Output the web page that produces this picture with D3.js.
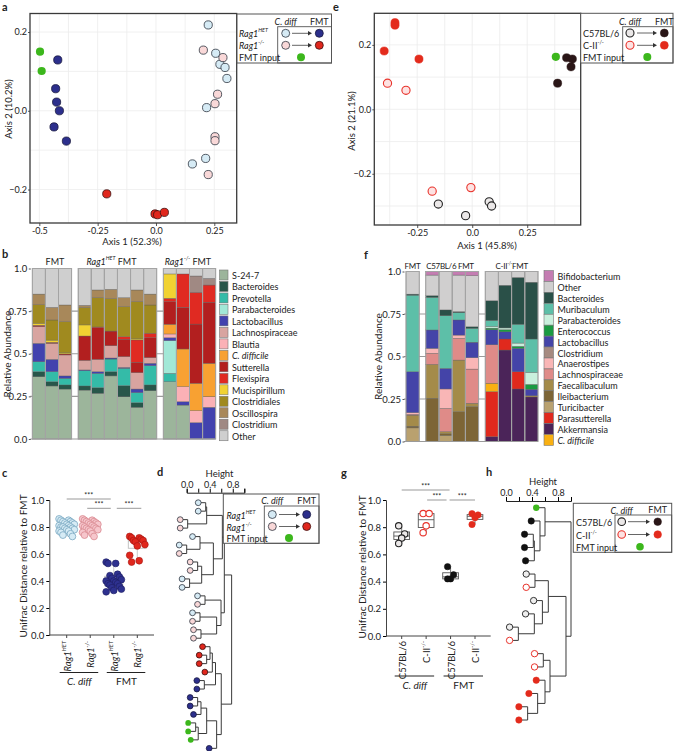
<!DOCTYPE html>
<html>
<head>
<meta charset="utf-8">
<script src="https://cdn.jsdelivr.net/npm/d3@7/dist/d3.min.js"></script>
<style>
body { margin: 0; background: #fff; }
svg text { font-family: Lato, "Open Sans", sans-serif; fill: #222; }
</style>
</head>
<body>
<svg id="fig" width="679" height="751"></svg>
<script>
// ---------- data ----------
// a : PCoA Rag1 (x = Axis 1, y = Axis 2)
const aHetCdiff = [[0.224,0.218],[0.256,0.146],[0.274,0.118],[0.296,0.110],[0.304,0.082],[0.217,0.008],[0.213,-0.121],[0.156,-0.135]];
const aKoCdiff  = [[0.203,0.154],[0.287,0.135],[0.264,0.042],[0.253,0.018],[0.253,-0.066],[0.253,-0.076],[0.224,-0.162]];
const aHetFmt   = [[-0.421,0.129],[-0.430,0.056],[-0.426,0.022],[-0.414,0.0],[-0.437,-0.041],[-0.384,-0.077]];
const aKoFmt    = [[-0.211,-0.211],[-0.004,-0.262],[0.007,-0.264],[0.036,-0.258]];
const aInput    = [[-0.497,0.150],[-0.490,0.101]];

// e : PCoA C-II
const eC57Cdiff = [[-0.154,-0.294],[0.077,-0.287],[0.088,-0.300],[-0.030,-0.330]];
const eCiiCdiff = [[-0.385,0.081],[-0.301,0.059],[-0.182,-0.254],[-0.006,-0.243]];
const eC57Fmt   = [[0.429,0.160],[0.455,0.156],[0.449,0.132],[0.388,0.081]];
const eCiiFmt   = [[-0.351,0.269],[-0.351,0.261],[-0.400,0.181],[-0.242,0.156]];
const eInput    = [[0.380,0.163]];

// b : relative abundance, taxa from bottom of stack to top
const taxaB = ["S-24-7","Bacteroides","Prevotella","Parabacteroides","Lactobacillus","Lachnospiraceae","Blautia","C. difficile","Sutterella","Flexispira","Mucispirillum","Clostridiales","Oscillospira","Clostridium","Other"];
const colorsB = ["#9cb59b","#28564a","#34bba8","#a2e8d7","#4242ae","#d8a4a0","#fbb1b6","#f8a132","#b21f1f","#e02a22","#f1d232","#a08a1f","#a8885a","#a08983","#cfcfcf"];
const sampleGroupB = [0,0,0,1,1,1,1,1,1,2,2,2,2];
const abundB = [
  [.365,.030,.058,0,.108,.098,0,0,.008,0,.012,.108,.063,0,.150],
  [.311,.025,.059,0,.072,.094,0,0,.006,0,.013,.118,.074,0,.228],
  [.293,.024,.039,0,.014,.123,0,0,.006,0,.006,.183,.098,0,.214],
  [.287,.024,.090,0,.004,.056,0,0,.143,0,.065,.102,.013,0,.216],
  [.268,.033,.084,0,.010,.072,0,0,.186,.004,0,.172,.045,0,.126],
  [.370,.025,.074,0,.006,.072,0,0,.086,0,0,.190,.055,0,.122],
  [.248,.065,.102,0,.005,.063,0,0,.102,.015,0,.176,.053,0,.171],
  [.186,.027,.059,0,.021,.096,0,0,.061,.131,.006,.218,.069,0,.126],
  [.283,.034,.113,0,.014,.033,0,0,.117,.026,0,.166,.064,0,.150],
  [.336,0,.049,.192,.017,0,.022,.057,.132,.020,.143,0,0,0,.032],
  [.199,0,0,0,.020,0,.088,.221,.244,.196,0,0,0,0,.032],
  [0,0,0,0,.096,0,.070,.161,.347,.186,0,0,0,.096,.044],
  [0,0,0,0,.186,0,.062,.196,.358,.101,0,0,0,.039,.058]
];

// f : relative abundance, taxa from bottom of stack to top
const taxaF = ["Akkermansia","Parasutterella","C. difficile","Turicibacter","Ileibacterium","Faecalibaculum","Lachnospiraceae","Anaerostipes","Clostridium","Lactobacillus","Enterococcus","Parabacteroides","Muribaculum","Bacteroides","Other","Bifidobacterium"];
const colorsF = ["#4b2459","#e0291d","#f9b012","#b9a16f","#7d6536","#a48b49","#df8b88","#f9b6b6","#a68a80","#4444a8","#1a9a42","#c9f0dd","#5dbfa8","#2a5048","#d0cfcf","#c47db2"];
const legendOrderF = ["Bifidobacterium","Other","Bacteroides","Muribaculum","Parabacteroides","Enterococcus","Lactobacillus","Clostridium","Anaerostipes","Lachnospiraceae","Faecalibaculum","Ileibacterium","Turicibacter","Parasutterella","Akkermansia","C. difficile"];
const sampleGroupF = [0,1,1,1,1,2,2,2,2];
const abundF = [
  [0,0,0,.080,.010,.065,.005,.010,0,.240,0,0,.451,.006,.133,0],
  [0,0,0,0,.254,.200,.065,.029,0,.108,0,0,.192,.010,.121,.021],
  [0,0,0,.035,.010,.013,.137,.114,0,.121,0,0,.310,.034,.226,0],
  [0,0,0,0,.175,.304,.128,.019,0,.089,0,0,.043,.006,.215,.021],
  [0,0,0,0,.205,.020,.201,.067,0,.091,0,0,.082,.009,.301,.024],
  [.028,.265,.050,0,0,0,.226,0,0,.088,.010,.010,.035,.116,.172,0],
  [.538,.065,0,0,0,0,0,0,0,.042,.013,.010,0,.251,.081,0],
  [.309,.101,0,0,0,0,0,0,0,.138,.012,.019,.111,.275,.035,0],
  [.262,0,0,0,0,.007,0,0,0,.038,.029,.071,.196,.334,.063,0]
];

// c : Unifrac distance to FMT
const cHetCdiff = [0.86,0.85,0.85,0.84,0.84,0.83,0.83,0.82,0.82,0.81,0.81,0.80,0.80,0.80,0.79,0.79,0.78,0.78,0.77,0.77,0.76,0.75,0.74,0.73];
const cKoCdiff  = [0.86,0.85,0.85,0.84,0.84,0.83,0.83,0.82,0.82,0.81,0.81,0.80,0.80,0.79,0.79,0.78,0.78,0.77,0.76,0.75,0.74,0.73];
const cHetFmt   = [0.54,0.53,0.53,0.45,0.44,0.43,0.42,0.41,0.40,0.40,0.39,0.38,0.38,0.37,0.36,0.35,0.34,0.33,0.32];
const cKoFmt    = [0.73,0.72,0.72,0.71,0.70,0.70,0.69,0.67,0.66,0.59,0.55,0.54];

// g : Unifrac distance to FMT
const gC57Cdiff = [0.81,0.75,0.72,0.68];
const gCiiCdiff = [0.90,0.90,0.81,0.76];
const gC57Fmt   = [0.51,0.45,0.42,0.42];
const gCiiFmt   = [0.90,0.89,0.87,0.82];

// d, h : hierarchical clustering  [height, left, right], leaves = group code
const treeD = [0.78,
  [0.653,
    [0.619,
      [0.347, [0.33,"hb","hb"], [0.017,"kb","kb"]],
      [0.463, [0.231,"hb",[0.0,"hb","kb"]], [0.26,[0.19,"kb","kb"],[0.05,"hb","hb"]]]],
    [0.596, [0.318,"hb","kb"], [0.52,[0.231,"hb","kb"],[0.248,"kb","kb"]]]],
  [0.6,
    [0.5, [0.445,[0.405,"kf",[0.347,"kf","kf"]],"kf"], [0.306,"hf","hf"]],
    [0.52, [0.347,[0.248,[0.19,"hf","hf"],"hf"],[0.2,[0.156,"in","in"],"in"]], "hf"]]
];
const treeH = [1.0,
  [0.6, "in", [0.523, "f57", [0.436, [0.42,"f57","f57"], "f57"]]],
  [0.923,
    [0.651, [0.446,"c57","cii"], [0.56, "c57", [0.436, "c57", [0.19,"c57","cii"]]]],
    [0.677, [0.574,"cii","cii"], [0.6, "fii", [0.487, "fii", [0.333,"fii","fii"]]]]]
];

// ---------- styles ----------
const sty = {
  hb:  {fill:"#d6ebf5", stroke:"#2d3540", sw:0.8},
  kb:  {fill:"#f9d8d8", stroke:"#2d3540", sw:0.8},
  hf:  {fill:"#2c2f8c", stroke:"#1a1a40", sw:0.8},
  kf:  {fill:"#e0271d", stroke:"#3a1010", sw:0.8},
  in:  {fill:"#3cb71c", stroke:"none", sw:0},
  c57: {fill:"#ebe8e8", stroke:"#222", sw:1.1},
  cii: {fill:"#fde2e2", stroke:"#e8322a", sw:1.1},
  f57: {fill:"#2a1617", stroke:"#2a1617", sw:0.5},
  fii: {fill:"#e32b1c", stroke:"#e32b1c", sw:0.5}
};
const labHet = [{t:"Rag1",i:1},{t:"HET",i:1,sup:1}];
const labKo  = [{t:"Rag1",i:1},{t:"-/-",i:1,sup:1}];
const labC57 = [{t:"C57BL/6"}];
const labCii = [{t:"C-II"},{t:"-/-",sup:1}];

const svg = d3.select("#fig");
svg.append("rect").attr("width",679).attr("height",751).attr("fill","#fff");

function rich(sel, parts) {
  parts.forEach(p => {
    const ts = sel.append("tspan").text(p.t);
    if (p.i) ts.attr("font-style","italic");
    if (p.sup) ts.attr("baseline-shift","super").attr("font-size","0.6em");
  });
  return sel;
}
function txt(x, y, s, size, anchor) {
  return svg.append("text").attr("x",x).attr("y",y).attr("font-size",size)
    .attr("text-anchor",anchor || "middle").attr("dominant-baseline","central").text(s);
}
function vtxt(x, y, s, size) {
  return svg.append("text").attr("transform",`translate(${x},${y}) rotate(-90)`)
    .attr("font-size",size).attr("text-anchor","middle").attr("dominant-baseline","central").text(s);
}
function dot(g, x, y, r, s) {
  g.append("circle").attr("cx",x).attr("cy",y).attr("r",r)
    .attr("fill",s.fill).attr("stroke",s.stroke).attr("stroke-width",s.sw);
}
function styleAxis(g, size) {
  g.attr("font-size",size);
  g.select(".domain").remove();
  g.selectAll("line").attr("stroke","#555");
}

// panel letters
[["a",2,6],["e",333,6],["b",2,253],["f",364,254],["c",2,472],["d",157,471],["g",341,472],["h",486,471]]
  .forEach(([t,x,y]) => txt(x,y,t,11,"start").attr("font-weight","bold"));

// ---------- scatter (a, e) ----------
function scatterPanel(p) {
  const x = d3.scaleLinear().domain(p.xd).range([p.x0, p.x1]);
  const y = d3.scaleLinear().domain(p.yd).range([p.y1, p.y0]);
  const g = svg.append("g");
  g.selectAll("line.gx").data(p.gridX).enter().append("line")
    .attr("x1",d=>x(d)).attr("x2",d=>x(d)).attr("y1",p.y0).attr("y2",p.y1)
    .attr("stroke","#ececec").attr("stroke-width",0.8);
  g.selectAll("line.gy").data(p.gridY).enter().append("line")
    .attr("y1",d=>y(d)).attr("y2",d=>y(d)).attr("x1",p.x0).attr("x2",p.x1)
    .attr("stroke","#ececec").attr("stroke-width",0.8);
  const ax = g.append("g").attr("transform",`translate(0,${p.y1})`)
    .call(d3.axisBottom(x).tickValues(p.xt).tickSize(3).tickPadding(1.5).tickFormat(d => d === 0 ? "0.0" : String(d)));
  styleAxis(ax, 9);
  const ay = g.append("g").attr("transform",`translate(${p.x0},0)`)
    .call(d3.axisLeft(y).tickValues(p.yt).tickSize(2).tickPadding(1).tickFormat(d3.format(".1f")));
  styleAxis(ay, 9);
  p.series.forEach(s => s.data.forEach(d => dot(g, x(d[0]), y(d[1]), 4.1, s.st)));
  g.append("rect").attr("x",p.x0).attr("y",p.y0).attr("width",p.x1-p.x0).attr("height",p.y1-p.y0)
    .attr("fill","none").attr("stroke","#3a3a3a").attr("stroke-width",1.3);
  txt(p.xlab[0], p.xlab[1], p.xlab[2], 9.5);
  vtxt(p.ylab[0], p.ylab[1], p.ylab[2], 9.5);
}

scatterPanel({
  x0:30, x1:236.7, y0:13.5, y1:223, xd:[-0.54,0.346], yd:[-0.285,0.247],
  gridX:[-0.5,-0.375,-0.25,-0.125,0,0.125,0.25], gridY:[-0.2,-0.1,0,0.1,0.2],
  xt:[-0.5,-0.25,0,0.25], yt:[-0.2,0,0.2],
  series:[{data:aHetCdiff,st:sty.hb},{data:aKoCdiff,st:sty.kb},{data:aHetFmt,st:sty.hf},{data:aKoFmt,st:sty.kf},{data:aInput,st:sty.in}],
  xlab:[132,241,"Axis 1 (52.3%)"], ylab:[8.5,109,"Axis 2 (10.2%)"]
});
scatterPanel({
  x0:374.3, x1:580.7, y0:13.3, y1:225, xd:[-0.445,0.493], yd:[-0.359,0.298],
  gridX:[-0.375,-0.25,-0.125,0,0.125,0.25,0.375], gridY:[-0.3,-0.2,-0.1,0,0.1,0.2],
  xt:[-0.25,0,0.25], yt:[-0.2,0,0.2],
  series:[{data:eC57Cdiff,st:sty.c57},{data:eCiiCdiff,st:sty.cii},{data:eC57Fmt,st:sty.f57},{data:eCiiFmt,st:sty.fii},{data:eInput,st:sty.in}],
  xlab:[487,245,"Axis 1 (45.8%)"], ylab:[351.5,121,"Axis 2 (21.1%)"]
});

// ---------- legends with arrows ----------
function arrowLegend(L) {
  const g = svg.append("g");
  g.append("rect").attr("x",L.x0).attr("y",L.y0).attr("width",L.x1-L.x0).attr("height",L.y1-L.y0)
    .attr("fill","#fff").attr("stroke","#555").attr("stroke-width",1);
  g.append("rect").attr("x",L.ix).attr("y",L.iy).attr("width",L.x1-L.ix).attr("height",L.y1-L.iy)
    .attr("fill","none").attr("stroke","#555").attr("stroke-width",0.9);
  rich(txt(L.cx1, L.hy, "", 9), [{t:"C. diff",i:1}]);
  txt(L.cx2, L.hy, "FMT", 9);
  L.labels.forEach((lab, i) => rich(txt(L.lx, L.rows[i], "", 9, "start"), lab));
  [0,1].forEach(i => {
    dot(g, L.cx1, L.rows[i], L.r, L.open[i]);
    dot(g, L.cx2, L.rows[i], L.r, L.full[i]);
    g.append("line").attr("x1",L.a0).attr("x2",L.a1-3).attr("y1",L.rows[i]).attr("y2",L.rows[i])
      .attr("stroke","#555").attr("stroke-width",0.9);
    g.append("path").attr("d",`M${L.a1},${L.rows[i]}l-4,-2.2v4.4z`).attr("fill","#333");
  });
  dot(g, L.gx, L.rows[2], L.r, sty.in);
}
arrowLegend({x0:237,y0:14,x1:331.5,y1:63,ix:277.7,iy:26.7,hy:21,cx1:285.7,cx2:319.3,a0:292,a1:312,gx:301,
  lx:239,rows:[33.3,45.3,57.3],r:4,labels:[labHet,labKo,[{t:"FMT input"}]],open:[sty.hb,sty.kb],full:[sty.hf,sty.kf]});
arrowLegend({x0:580.7,y0:13.3,x1:673,y1:63,ix:622.7,iy:26.7,hy:21,cx1:630,cx2:664.3,a0:637,a1:657,gx:647.3,
  lx:583,rows:[33,45.3,57],r:4,labels:[labC57,labCii,[{t:"FMT input"}]],open:[sty.c57,sty.cii],full:[sty.f57,sty.fii]});

// ---------- stacked bars (b, f) ----------
function stackPanel(p) {
  const x = d3.scaleLinear().domain([0, p.units]).range(p.xr);
  const y = d3.scaleLinear().domain([0,1]).range(p.yr);
  const bw = x(1) - x(0);
  const rows = p.matrix.map((v,i) => {
    const o = {pos: i + p.groups[i] * 0.5};
    p.taxa.forEach((t,j) => o[t] = v[j]);
    return o;
  });
  const series = d3.stack().keys(p.taxa)(rows);
  const g = svg.append("g");
  g.selectAll("line.grid").data([0.25,0.5,0.75]).enter().append("line")
    .attr("x1",p.xr[0]-2).attr("x2",p.xr[1]).attr("y1",d=>y(d)).attr("y2",d=>y(d))
    .attr("stroke","#9a9a9a").attr("stroke-width",1.1);
  g.selectAll("g.layer").data(series).enter().append("g").attr("fill",(d,i)=>p.colors[i])
    .selectAll("rect").data(d => d.filter(s => s[1]-s[0] > 0)).enter().append("rect")
    .attr("x",d=>x(d.data.pos)).attr("width",bw).attr("y",d=>y(d[1])).attr("height",d=>y(d[0])-y(d[1]))
    .attr("stroke","#5a5a5a").attr("stroke-width",0.35);
  g.selectAll("rect.frame").data(rows).enter().append("rect")
    .attr("x",d=>x(d.pos)).attr("width",bw).attr("y",y(1)).attr("height",y(0)-y(1))
    .attr("fill","none").attr("stroke","#a4a4a4").attr("stroke-width",1);
  g.append("line").attr("x1",p.xr[0]-2).attr("x2",p.xr[1]).attr("y1",y(0)).attr("y2",y(0))
    .attr("stroke","#9a9a9a").attr("stroke-width",1.1);
  const ay = g.append("g").attr("transform",`translate(${p.xr[0]-1.5},0)`)
    .call(d3.axisLeft(y).tickValues([0,0.25,0.5,0.75,1]).tickSize(2).tickPadding(1.5)
      .tickFormat(d => d === 0 ? "0.0" : d === 1 ? "1.0" : String(d)));
  styleAxis(ay, 9.5);
  p.heads.forEach(h => {
    const t = rich(txt(h.x, h.y, "", p.headSize), h.parts);
    if (p.headSpacing) t.attr("letter-spacing", p.headSpacing);
  });
  vtxt(p.ylab[0], p.ylab[1], "Relative Abundance", 10);
  // legend
  p.legend.forEach((name, i) => {
    const c = p.colors[p.taxa.indexOf(name)];
    const cy = p.ly0 + i * p.ldy;
    g.append("rect").attr("x",p.lx).attr("y",cy - p.lh/2).attr("width",p.lw).attr("height",p.lh)
      .attr("fill",c).attr("stroke","#777").attr("stroke-width",0.6);
    const t = txt(p.lx + p.lw + 4, cy, "", 9, "start");
    rich(t, [{t:name, i: name === "C. difficile" ? 1 : 0}]);
  });
}
stackPanel({
  taxa:taxaB, colors:colorsB, matrix:abundB, groups:sampleGroupB, units:14,
  xr:[32.3,215.7], yr:[439,268.5], headSize:9,
  heads:[{x:55,y:261,parts:[{t:"FMT"}]},{x:111.5,y:261,parts:labHet.concat([{t:" FMT"}])},{x:188,y:261,parts:labKo.concat([{t:" FMT"}])}],
  ylab:[7,354],
  legend:taxaB, lx:219.5, lw:8.5, lh:10, ly0:275, ldy:11.48
});
stackPanel({
  taxa:taxaF, colors:colorsF, matrix:abundF, groups:sampleGroupF, units:10,
  xr:[406,538], yr:[441.5,271.5], headSize:8, headSpacing:-0.3,
  heads:[{x:412.5,y:265.5,parts:[{t:"FMT"}]},{x:450,y:265.5,parts:[{t:"C57BL/6 FMT"}]},{x:511.7,y:265.5,parts:[{t:"C-II"},{t:"-/-",sup:1},{t:"FMT"}]}],
  ylab:[377.5,356.5],
  legend:legendOrderF, lx:544, lw:9.5, lh:10.9, ly0:276, ldy:10.93
});

// ---------- distance plots (c, g) ----------
function distPanel(p) {
  const y = d3.scaleLinear().domain([0,1]).range(p.yr);
  const x = d3.scalePoint().domain(d3.range(p.sets.length)).range(p.xr);
  const g = svg.append("g");
  const ay = g.append("g").attr("transform",`translate(${p.ax},0)`)
    .call(d3.axisLeft(y).tickValues([0,0.2,0.4,0.6,0.8,1]).tickSize(3).tickPadding(2).tickFormat(d3.format(".1f")));
  ay.attr("font-size",9.5);
  ay.select(".domain").attr("stroke","#444");
  g.append("line").attr("x1",p.ax).attr("x2",p.xEnd).attr("y1",y(0)).attr("y2",y(0)).attr("stroke","#444");
  p.sets.forEach((s, k) => {
    const cx = x(k);
    const v = s.vals.slice().sort(d3.ascending);
    const q1 = d3.quantile(v,0.25), md = d3.quantile(v,0.5), q3 = d3.quantile(v,0.75);
    g.append("line").attr("x1",cx).attr("x2",cx).attr("y1",y(v[0])).attr("y2",y(v[v.length-1]))
      .attr("stroke",p.boxStroke).attr("stroke-width",0.8);
    g.append("rect").attr("x",cx-p.bw/2).attr("width",p.bw).attr("y",y(q3)).attr("height",y(q1)-y(q3))
      .attr("fill","#fff").attr("stroke",p.boxStroke).attr("stroke-width",0.9);
    g.append("line").attr("x1",cx-p.bw/2).attr("x2",cx+p.bw/2).attr("y1",y(md)).attr("y2",y(md))
      .attr("stroke",p.boxStroke).attr("stroke-width",0.9);
    s.vals.forEach((d,i) => dot(g, cx + p.jit(i), y(d), p.r, s.st));
    g.append("line").attr("x1",cx).attr("x2",cx).attr("y1",y(0)).attr("y2",y(0)+3).attr("stroke","#444");
    const t = svg.append("text").attr("transform",`translate(${cx},${p.labY}) rotate(-90)`)
      .attr("font-size",9.5).attr("text-anchor","end").attr("dominant-baseline","central");
    rich(t, s.lab);
  });
  p.brackets.forEach(b => {
    g.append("line").attr("x1",x(b[0])+b[2]).attr("x2",x(b[1])+b[3]).attr("y1",b[4]).attr("y2",b[4])
      .attr("stroke","#999").attr("stroke-width",1);
    svg.append("text").attr("x",(x(b[0])+b[2]+x(b[1])+b[3])/2).attr("y",b[4]-1.2)
      .attr("font-size",7).attr("text-anchor","middle").text("***");
  });
  [[0,1,[{t:"C. diff",i:1}]],[2,3,[{t:"FMT"}]]].forEach(([a,b,lab]) => {
    g.append("line").attr("x1",x(a)-7).attr("x2",x(b)+8).attr("y1",p.ulY).attr("y2",p.ulY).attr("stroke","#222").attr("stroke-width",1);
    rich(txt((x(a)+x(b))/2 + 1, p.ulY + 8.5, "", 10), lab);
  });
  vtxt(p.ylab[0], p.ylab[1], "Unifrac Distance relative to FMT", 10);
}
distPanel({
  yr:[635,500], xr:[66.7,137.3], ax:49.3, xEnd:154, bw:18, r:3.4, boxStroke:"#bdbdbd",
  jit: i => ((i * 5) % 9 - 4) * 1.9,
  sets:[{vals:cHetCdiff,st:{fill:"#d6ebf5",stroke:"#7aa8c2",sw:0.8},lab:labHet},
        {vals:cKoCdiff,st:{fill:"#f6c6cc",stroke:"#d98a92",sw:0.8},lab:labKo},
        {vals:cHetFmt,st:{fill:"#2e318f",stroke:"#1c1d60",sw:0.6},lab:labHet},
        {vals:cKoFmt,st:{fill:"#e0271d",stroke:"#a51510",sw:0.6},lab:labKo}],
  labY:641, ulY:672.5,
  brackets:[[0,2,0,-3,499],[1,2,-3,-3,508.3],[2,3,3,4,508.3]],
  ylab:[22.5,566]
});
distPanel({
  yr:[636,500], xr:[401.7,475], ax:386, xEnd:490.7, bw:15.7, r:3.2, boxStroke:"#555",
  jit: i => ((i * 2) % 3 - 1) * 3,
  sets:[{vals:gC57Cdiff,st:sty.c57,lab:labC57},
        {vals:gCiiCdiff,st:{fill:"#fff",stroke:"#e8322a",sw:1.1},lab:labCii},
        {vals:gC57Fmt,st:{fill:"#111",stroke:"#111",sw:0.5},lab:labC57},
        {vals:gCiiFmt,st:sty.fii,lab:labCii}],
  labY:641, ulY:676,
  brackets:[[0,2,0,-1,490],[1,2,1,-4,500],[2,3,-1,0,500]],
  ylab:[361.7,567]
});

// ---------- dendrograms (d, h) ----------
function treePanel(p) {
  const hx = d3.scaleLinear().domain([0,1]).range(p.hr);
  const g = svg.append("g");
  const ax = g.append("g").attr("transform",`translate(0,${p.axY})`)
    .call(d3.axisTop(hx).tickValues([0,0.2,0.4,0.6,0.8,1]).tickSize(4).tickPadding(1)
      .tickFormat(d => [0,0.4,0.8].includes(d) ? d3.format(".1f")(d) : ""));
  ax.attr("font-size",9);
  ax.select(".domain").attr("stroke","#222");
  txt(hx(0.57), p.axY - 19.5, "Height", 9.5);
  let idx = 0;
  const leaves = [];
  function walk(node, parentH) {
    if (typeof node === "string") {
      const pt = {x: hx(parentH - p.hang), y: p.y0 + idx++ * p.dy, g: node};
      leaves.push(pt);
      return pt;
    }
    const [h, a, b] = node;
    const ca = walk(a, h), cb = walk(b, h);
    const xh = hx(h);
    g.append("path").attr("d",`M${ca.x},${ca.y}H${xh}V${cb.y}H${cb.x}`)
      .attr("fill","none").attr("stroke","#3a3a3a").attr("stroke-width",1);
    return {x: xh, y: (ca.y + cb.y) / 2};
  }
  walk(p.tree, p.tree[0]);
  leaves.forEach(l => dot(g, l.x, l.y, p.r, p.st[l.g]));
}
treePanel({tree:treeD, hr:[186.7,244.3], axY:492.7, y0:502.7, dy:8.47, hang:0.13, r:2.9,
  st:{hb:sty.hb, kb:sty.kb, hf:sty.hf, kf:sty.kf, in:sty.in}});
treePanel({tree:treeH, hr:[506,571], axY:501, y0:507.7, dy:13.27, hang:0.135, r:3.2,
  st:{in:sty.in, f57:{fill:"#111",stroke:"#111",sw:0.5}, c57:{fill:"#eee",stroke:"#333",sw:1}, cii:{fill:"#fff",stroke:"#e8322a",sw:1}, fii:sty.fii}});

// legends of d and h sit on top of the trees
arrowLegend({x0:223.3,y0:494,x1:319,y1:543.3,ix:264.3,iy:506,hy:500.3,cx1:272.3,cx2:306.7,a0:279,a1:300,gx:289,
  lx:226.5,rows:[514.5,526.5,538],r:4,labels:[labHet,labKo,[{t:"FMT input"}]],open:[sty.hb,sty.kb],full:[sty.hf,sty.kf]});
arrowLegend({x0:573.3,y0:503.3,x1:671.7,y1:552.3,ix:615,iy:515,hy:509.5,cx1:621.7,cx2:657.7,a0:628,a1:650,gx:640,
  lx:576,rows:[521.7,534.5,546.7],r:3.8,labels:[labC57,labCii,[{t:"FMT input"}]],open:[sty.c57,sty.cii],full:[sty.f57,sty.fii]});
</script>
</body>
</html>
